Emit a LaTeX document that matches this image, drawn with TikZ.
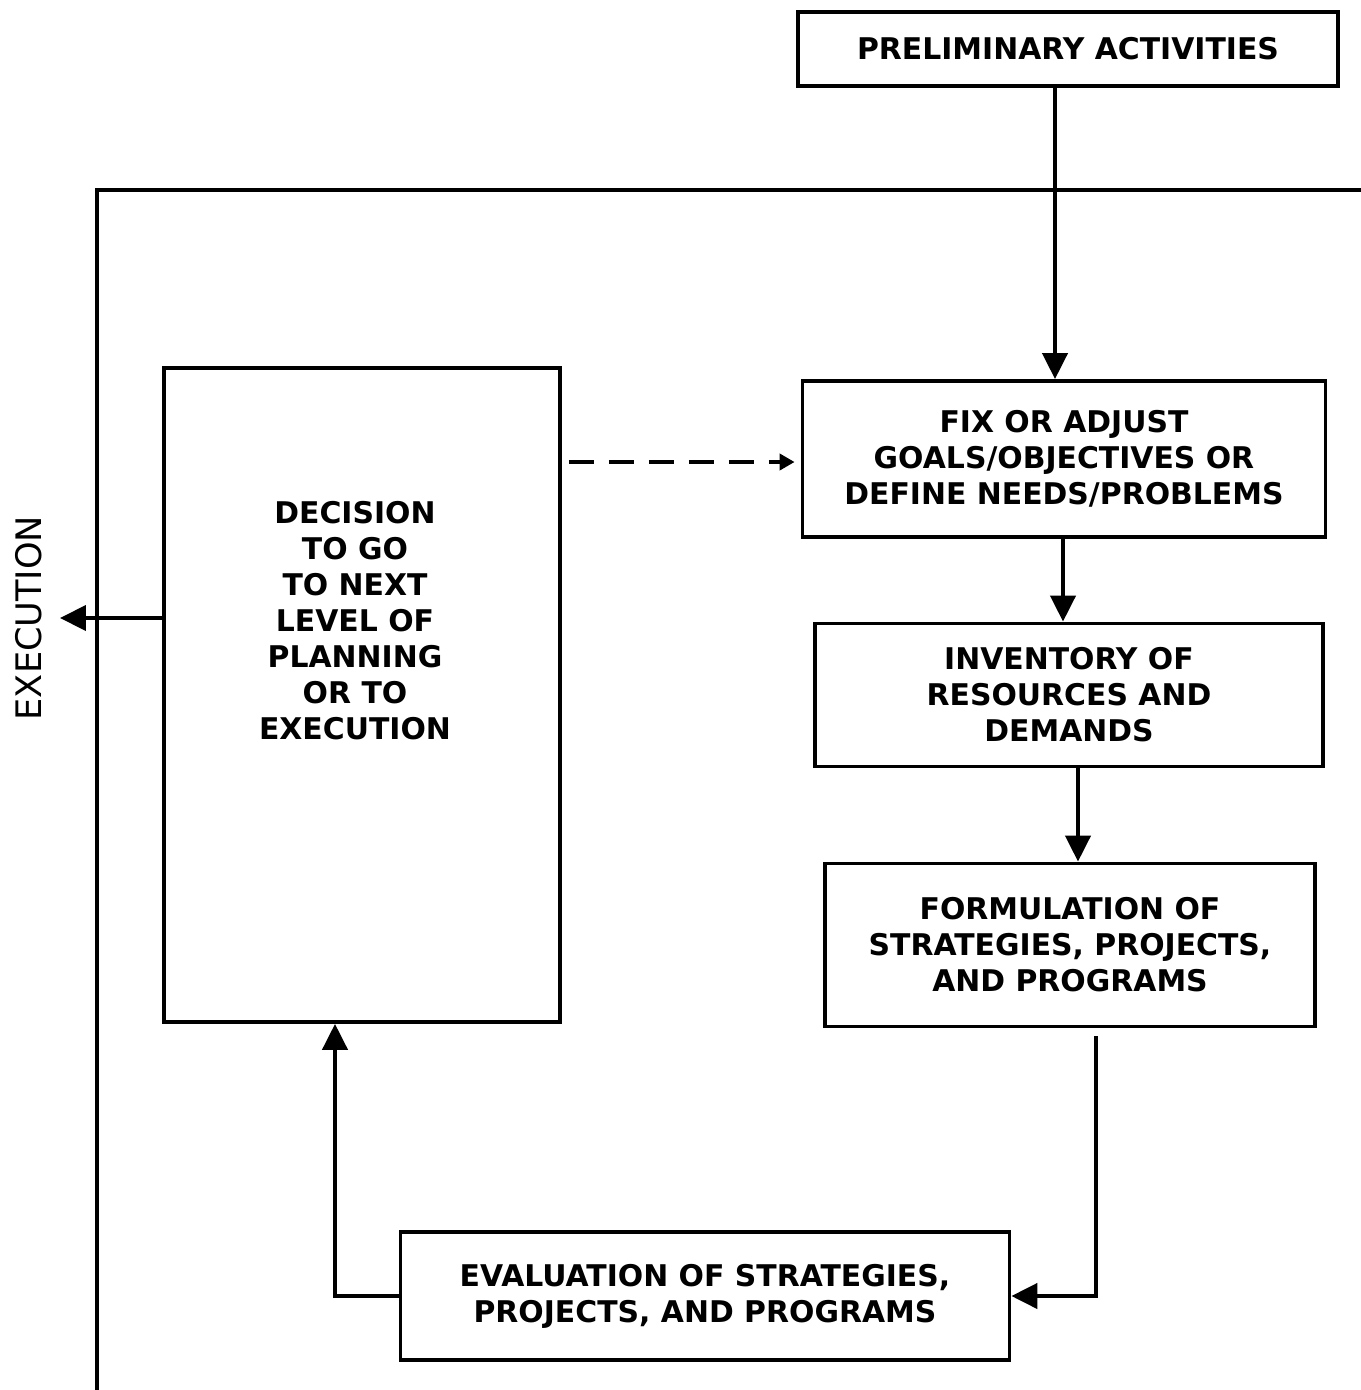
\documentclass[tikz,border=0pt]{standalone}
\usepackage{fontspec}
\setmainfont{DejaVu Sans}
\usetikzlibrary{arrows.meta}
\begin{document}
\begin{tikzpicture}[x=0.02cm, y=-0.02cm,
    box/.style = {draw, line width=2.2pt, inner sep=0pt, align=center,
      font=\bfseries\fontsize{17}{20.5}\selectfont},
    txt/.style = {align=center, font=\bfseries\fontsize{17}{20.5}\selectfont},
    conn/.style = {line width=2.4pt, -{Triangle[length=0.52cm, width=0.5cm]}},
    dashconn/.style = {line width=2.4pt, dash pattern=on 0.5cm off 0.3cm,
      -{Triangle[length=0.3cm, width=0.32cm]}}]
        \useasboundingbox (0,0) rectangle (1361,1390);
        \node[box, minimum width=10.8cm, minimum height=1.48cm] (pre) at (1068,49) {PRELIMINARY ACTIVITIES};
        \node[box, minimum width=10.46cm, minimum height=3.12cm] (fix) at (1064,459) {FIX OR ADJUST\\GOALS/OBJECTIVES OR\\DEFINE NEEDS/PROBLEMS};
        \node[box, minimum width=10.16cm, minimum height=2.86cm] (inv) at (1069,695) {INVENTORY OF\\RESOURCES AND\\DEMANDS};
        \node[box, minimum width=9.8cm, minimum height=3.26cm] (form) at (1070,945) {FORMULATION OF\\STRATEGIES, PROJECTS,\\AND PROGRAMS};
        \node[box, minimum width=12.18cm, minimum height=2.56cm] (eval) at (705,1296) {EVALUATION OF STRATEGIES,\\PROJECTS, AND PROGRAMS};
        \node[box, minimum width=7.92cm, minimum height=13.08cm] (dec) at (362,695) {};
        \node[txt] (dectxt) at (355,621) {DECISION\\TO GO\\TO NEXT\\LEVEL OF\\PLANNING\\OR TO\\EXECUTION};
        \node[rotate=90, font=\fontsize{20}{24}\selectfont] (exetxt) at (29,618) {EXECUTION};
        \coordinate (exe) at (60,618);
        %
        \draw[line width=2.4pt] (97,1390) |- (1361,190);
        \draw[conn] (pre.south -| 1055,0) -- (fix.north -| 1055,0);
        \draw[conn] (fix.south -| 1063,0) -- (inv.north -| 1063,0);
        \draw[conn] (inv.south -| 1078,0) -- (form.north -| 1078,0);
        \draw[conn, shorten <=0.16cm] (form.south -| 1096,0) |- (eval.east);
        \draw[conn] (eval.west) -| (dec.south -| 335,0);
        \draw[dashconn, shorten <=0.14cm, shorten >=0.12cm] (dec.east |- 0,462) -- (fix.west |- 0,462);
        \draw[conn] (dec.west |- exe) -- (exe);
      \end{tikzpicture}
\end{document}
